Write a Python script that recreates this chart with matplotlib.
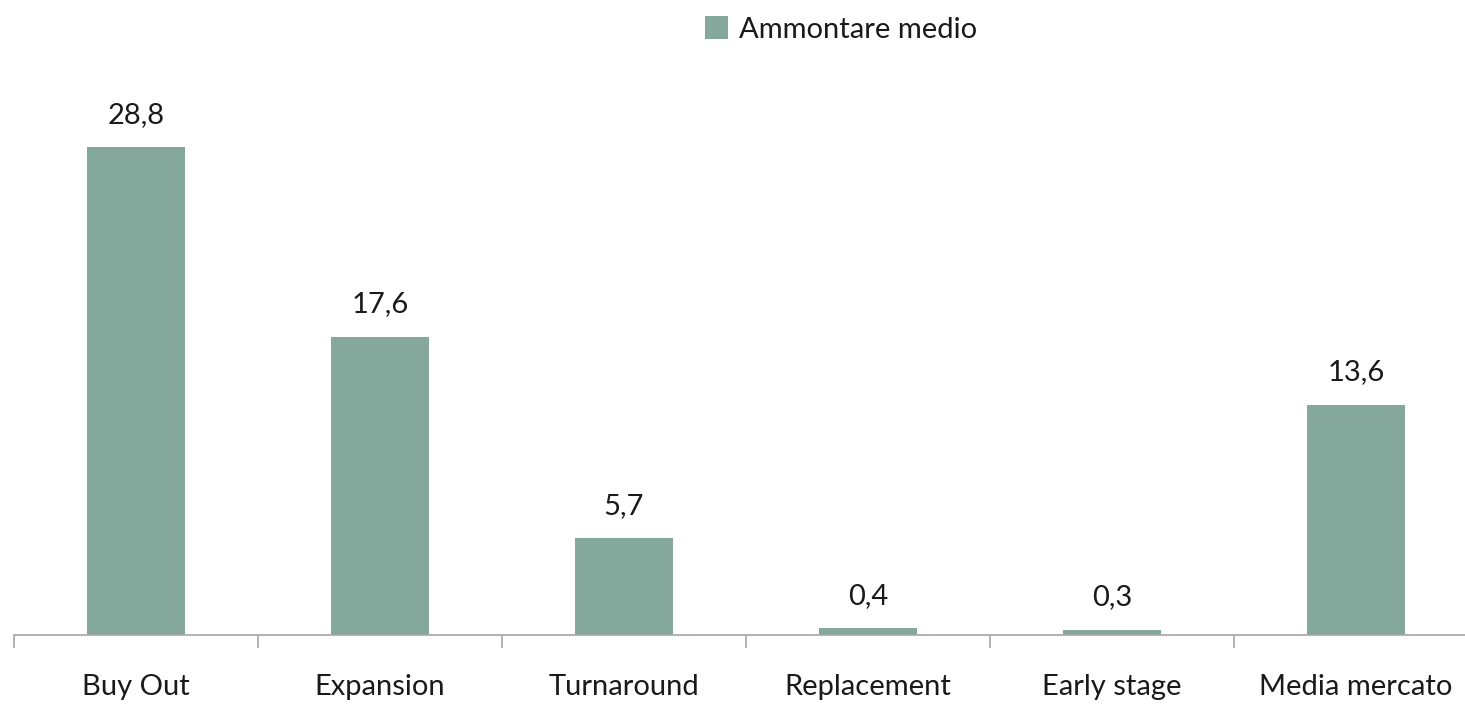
import matplotlib.pyplot as plt

# ---------------------------------------------------------------------------
# Daten ---------------------------------------------------------------------
# ---------------------------------------------------------------------------
categories = ["Buy Out", "Expansion", "Turnaround", "Replacement", "Early stage", "Media mercato"]
values = [28.8, 17.6, 5.7, 0.4, 0.3, 13.6]
series_name = "Ammontare medio"

BAR_COLOR = "#84a89c"
AXIS_COLOR = "#a6a6a6"
TEXT_COLOR = "#1a1a1a"

plt.rcParams["font.family"] = ["Lato", "DejaVu Sans"]

fig = plt.figure(figsize=(14.65, 7.04), dpi=100)
ax = fig.add_axes([14 / 1465, 69 / 704, 1464 / 1465, 635 / 704])

x = list(range(len(categories)))
ax.bar(x, values, width=0.4, color=BAR_COLOR, label=series_name, zorder=2)

for xi, v in zip(x, values):
    ax.annotate(f"{v:.1f}".replace(".", ","), (xi, v), xytext=(0, 14), textcoords="offset points",
                ha="center", va="bottom", fontsize=21, color=TEXT_COLOR)

ax.set_xlim(-0.5, len(categories) - 0.5)
ax.set_ylim(0, 37.5)

# Achsen ------------------------------------------------------------------
for side in ("top", "right", "left"):
    ax.spines[side].set_visible(False)
ax.spines["bottom"].set_color(AXIS_COLOR)
ax.spines["bottom"].set_linewidth(1.2)
ax.set_yticks([])

ax.set_xticks(x)
ax.set_xticklabels(categories, fontsize=21, color=TEXT_COLOR)
ax.tick_params(axis="x", which="major", length=0, pad=28)
ax.set_xticks([i - 0.5 for i in range(len(categories) + 1)], minor=True)
ax.tick_params(axis="x", which="minor", length=9, width=1.2, color=AXIS_COLOR)

fig.legend(loc="center", bbox_to_anchor=(0.574, 0.958), frameon=False, fontsize=21,
           handlelength=0.8, handleheight=0.8, handletextpad=0.35, labelcolor=TEXT_COLOR)

fig.savefig("out.png", dpi=100)
